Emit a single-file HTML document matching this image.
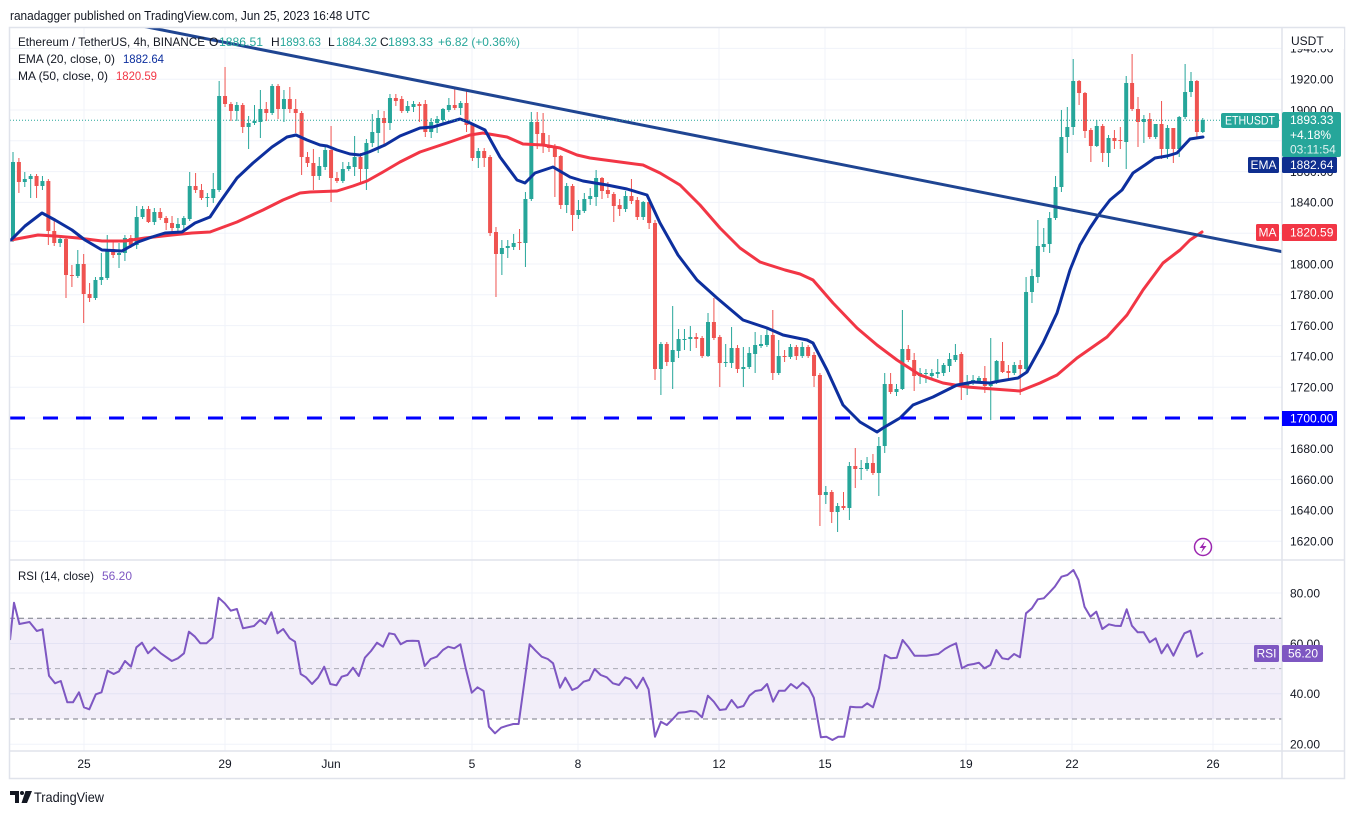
<!DOCTYPE html>
<html><head><meta charset="utf-8"><style>
html,body{margin:0;padding:0;background:#fff;width:1355px;height:814px;overflow:hidden;}
svg{display:block;font-family:"Liberation Sans",sans-serif;}
</style></head><body>
<svg width="1355" height="814" viewBox="0 0 1355 814" xmlns="http://www.w3.org/2000/svg">
<defs>
<clipPath id="mp"><rect x="10" y="28" width="1272" height="532"/></clipPath>
<clipPath id="rp"><rect x="10" y="561" width="1272" height="190"/></clipPath>
</defs>
<rect width="1355" height="814" fill="#fff"/>
<text x="10" y="20" font-size="13" fill="#131722" textLength="360" lengthAdjust="spacingAndGlyphs">ranadagger published on TradingView.com, Jun 25, 2023 16:48 UTC</text>

<!-- grid -->
<g stroke="#f0f3fa" stroke-width="1">
<line x1="10" x2="1282" y1="48.4" y2="48.4"/><line x1="10" x2="1282" y1="79.2" y2="79.2"/><line x1="10" x2="1282" y1="110" y2="110"/><line x1="10" x2="1282" y1="140.8" y2="140.8"/><line x1="10" x2="1282" y1="171.6" y2="171.6"/><line x1="10" x2="1282" y1="202.4" y2="202.4"/><line x1="10" x2="1282" y1="233.2" y2="233.2"/><line x1="10" x2="1282" y1="264" y2="264"/><line x1="10" x2="1282" y1="294.8" y2="294.8"/><line x1="10" x2="1282" y1="325.6" y2="325.6"/><line x1="10" x2="1282" y1="356.4" y2="356.4"/><line x1="10" x2="1282" y1="387.2" y2="387.2"/><line x1="10" x2="1282" y1="418" y2="418"/><line x1="10" x2="1282" y1="448.8" y2="448.8"/><line x1="10" x2="1282" y1="479.6" y2="479.6"/><line x1="10" x2="1282" y1="510.4" y2="510.4"/><line x1="10" x2="1282" y1="541.2" y2="541.2"/>
<line x1="10" x2="1282" y1="593" y2="593"/><line x1="10" x2="1282" y1="643.5" y2="643.5"/><line x1="10" x2="1282" y1="693.8" y2="693.8"/><line x1="10" x2="1282" y1="744.2" y2="744.2"/>
<line x1="84" x2="84" y1="28" y2="751"/><line x1="225" x2="225" y1="28" y2="751"/><line x1="331" x2="331" y1="28" y2="751"/><line x1="472" x2="472" y1="28" y2="751"/><line x1="578" x2="578" y1="28" y2="751"/><line x1="719" x2="719" y1="28" y2="751"/><line x1="825" x2="825" y1="28" y2="751"/><line x1="966" x2="966" y1="28" y2="751"/><line x1="1072" x2="1072" y1="28" y2="751"/><line x1="1213" x2="1213" y1="28" y2="751"/>
</g>

<!-- RSI band -->
<rect x="10" y="618.3" width="1272" height="100.7" fill="#7e57c2" fill-opacity="0.1"/>
<g stroke="#787b86" stroke-width="1" stroke-dasharray="5 4">
<line x1="10" x2="1282" y1="618.3" y2="618.3"/>
<line x1="10" x2="1282" y1="668.6" y2="668.6" stroke-opacity="0.6"/>
<line x1="10" x2="1282" y1="719" y2="719"/>
</g>

<!-- candles -->
<g id="cd" clip-path="url(#mp)"></g>

<g clip-path="url(#mp)" fill="none" stroke-linejoin="round" stroke-linecap="round">
<polyline stroke="#f23645" stroke-width="3" points="11,240 38,235 55,236 78,238 102,241 125,241 145,238 172,235 192,233 210,232 237,222 263,210 283,200 300,193 310,192 337,191 353,186 367,181 383,172 400,162 420,152 447,143 470,135 483,133 507,137 523,144 543,145 560,148 577,155 590,158 620,162 643,165 660,173 680,185 700,205 720,228 740,248 760,262 785,270 800,274 813,280 833,303 857,328 877,345 897,360 920,375 943,383 967,387 993,389 1020,391 1040,383 1057,375 1077,358 1107,337 1127,315 1143,290 1163,263 1180,250 1190,240 1202,232"/>
<polyline stroke="#0d2f9e" stroke-width="3" points="11,240 25,226 42,213 55,220 72,230 85,240 102,250 122,251 138,242 152,237 165,233 182,232 195,223 210,217 220,202 237,178 253,163 272,147 287,137 296,135 307,140 320,145 327,146 337,150 350,154 360,155 369,152 385,145 400,136 420,128 433,127 460,119 468,122 485,130 500,157 517,180 525,183 535,173 553,167 570,177 583,181 607,185 627,189 647,195 660,223 678,255 697,280 717,298 743,320 767,328 783,335 807,340 813,343 827,370 843,405 860,422 877,432 883,428 900,418 913,405 933,397 957,385 973,382 990,383 1000,381 1018,378 1027,372 1043,343 1057,313 1070,270 1080,245 1090,228 1100,213 1110,200 1122,190 1133,173 1145,165 1155,158 1167,156 1177,153 1190,139 1203,137"/>
<line x1="100" y1="17.7" x2="1282" y2="251.7" stroke="#1f4592" stroke-width="3"/>
<line x1="10" x2="1282" y1="418" y2="418" stroke="#0000ff" stroke-width="3" stroke-dasharray="15 18" stroke-linecap="butt"/>
<line x1="10" x2="1282" y1="120.3" y2="120.3" stroke="#26a69a" stroke-width="1" stroke-dasharray="1 2" stroke-linecap="butt"/>
</g>

<!-- RSI line -->
<polyline id="rsi" clip-path="url(#rp)" fill="none" stroke="#7e57c2" stroke-width="2" stroke-linejoin="round" points="10,640"/>

<!-- frame and separators -->
<g stroke="#e0e3eb" fill="none">
<rect x="9.5" y="27.5" width="1335" height="751" stroke-width="1.5"/>
<line x1="1282" x2="1282" y1="28" y2="778" stroke-width="1.5"/>
<line x1="10" x2="1345" y1="560" y2="560" stroke-width="1.5"/>
<line x1="10" x2="1345" y1="751" y2="751" stroke-width="1.5"/>
</g>

<!-- legend -->
<g font-size="12" fill="#131722">
<text x="18" y="46" textLength="187" lengthAdjust="spacingAndGlyphs">Ethereum / TetherUS, 4h, BINANCE</text>
<text x="209" y="46">O</text><text x="219" y="46" fill="#26a69a" textLength="44" lengthAdjust="spacingAndGlyphs">1886.51</text>
<text x="271" y="46">H</text><text x="280" y="46" fill="#26a69a" textLength="41" lengthAdjust="spacingAndGlyphs">1893.63</text>
<text x="328" y="46">L</text><text x="336" y="46" fill="#26a69a" textLength="41" lengthAdjust="spacingAndGlyphs">1884.32</text>
<text x="380" y="46">C</text><text x="388" y="46" fill="#26a69a" textLength="45" lengthAdjust="spacingAndGlyphs">1893.33</text>
<text x="438" y="46" fill="#26a69a" textLength="82" lengthAdjust="spacingAndGlyphs">+6.82 (+0.36%)</text>
<text x="18" y="63" textLength="97" lengthAdjust="spacingAndGlyphs">EMA (20, close, 0)</text>
<text x="123" y="63" fill="#0d2f9e" textLength="41" lengthAdjust="spacingAndGlyphs">1882.64</text>
<text x="18" y="80" textLength="90" lengthAdjust="spacingAndGlyphs">MA (50, close, 0)</text>
<text x="116" y="80" fill="#f23645" textLength="41" lengthAdjust="spacingAndGlyphs">1820.59</text>
<text x="18" y="580" textLength="76" lengthAdjust="spacingAndGlyphs">RSI (14, close)</text>
<text x="102" y="580" fill="#7e57c2" textLength="30" lengthAdjust="spacingAndGlyphs">56.20</text>
</g>

<!-- price axis labels -->
<g font-size="12" fill="#131722">
<text x="1290" y="52.7">1940.00</text>
<text x="1290" y="83.5">1920.00</text>
<text x="1290" y="114.3">1900.00</text>
<text x="1290" y="145.1">1880.00</text>
<text x="1290" y="175.9">1860.00</text>
<text x="1290" y="206.7">1840.00</text>
<text x="1290" y="237.5">1820.00</text>
<text x="1290" y="268.3">1800.00</text>
<text x="1290" y="299.1">1780.00</text>
<text x="1290" y="329.9">1760.00</text>
<text x="1290" y="360.7">1740.00</text>
<text x="1290" y="391.5">1720.00</text>
<text x="1290" y="422.3">1700.00</text>
<text x="1290" y="453.1">1680.00</text>
<text x="1290" y="483.9">1660.00</text>
<text x="1290" y="514.7">1640.00</text>
<text x="1290" y="545.5">1620.00</text>
<text x="1290" y="597.3">80.00</text>
<text x="1290" y="647.8">60.00</text>
<text x="1290" y="698.1">40.00</text>
<text x="1290" y="748.5">20.00</text>
</g>
<rect x="1283" y="29" width="61" height="20" fill="#fff"/>
<text x="1291" y="45" font-size="12" fill="#131722">USDT</text>

<!-- x axis labels -->
<g font-size="12" fill="#131722" text-anchor="middle">
<text x="84" y="768">25</text><text x="225" y="768">29</text><text x="331" y="768">Jun</text><text x="472" y="768">5</text><text x="578" y="768">8</text><text x="719" y="768">12</text><text x="825" y="768">15</text><text x="966" y="768">19</text><text x="1072" y="768">22</text><text x="1213" y="768">26</text>
</g>

<!-- label boxes -->
<rect x="1221" y="113" width="58" height="15" rx="2" fill="#26a69a"/>
<text x="1250" y="124.5" font-size="11.5" fill="#fff" text-anchor="middle" textLength="50" lengthAdjust="spacingAndGlyphs">ETHUSDT</text>
<rect x="1282" y="112" width="59" height="45" rx="2" fill="#26a69a"/>
<g font-size="12" fill="#fff">
<text x="1290" y="124">1893.33</text>
<text x="1290" y="139">+4.18%</text>
<text x="1290" y="153.5" fill-opacity="0.85">03:11:54</text>
</g>
<rect x="1248" y="157" width="31" height="16" rx="1.5" fill="#0f2e8f"/>
<text x="1263.5" y="169" font-size="12" fill="#fff" text-anchor="middle">EMA</text>
<rect x="1282" y="157" width="55" height="16" rx="1.5" fill="#0f2e8f"/>
<text x="1290" y="169" font-size="12" fill="#fff">1882.64</text>
<rect x="1256" y="224" width="23" height="17" rx="1.5" fill="#f23645"/>
<text x="1267.5" y="236.5" font-size="12" fill="#fff" text-anchor="middle">MA</text>
<rect x="1282" y="224" width="55" height="17" rx="1.5" fill="#f23645"/>
<text x="1290" y="236.5" font-size="12" fill="#fff">1820.59</text>
<rect x="1282" y="411" width="55" height="15" fill="#0000ff"/>
<text x="1290" y="422.5" font-size="12" fill="#fff">1700.00</text>
<rect x="1254" y="645" width="25" height="17" rx="1.5" fill="#7e57c2"/>
<text x="1266.5" y="657.5" font-size="12" fill="#fff" text-anchor="middle">RSI</text>
<rect x="1282" y="645" width="41" height="17" rx="1.5" fill="#7e57c2"/>
<text x="1288" y="657.5" font-size="12" fill="#fff">56.20</text>

<!-- flash icon -->
<circle cx="1203" cy="547" r="8.5" fill="#fff" stroke="#9c27b0" stroke-width="1.5"/>
<path d="M1205 541 L1199.5 548 L1203 548 L1201 553 L1206.5 546 L1203 546 Z" fill="#9c27b0"/>

<!-- TradingView logo -->
<path d="M10 791 H19 V803 H15 V795 H10 Z" fill="#131722"/>
<circle cx="22" cy="793" r="2" fill="#131722"/>
<path d="M25.5 791 H32 L27 803 H21.5 Z" fill="#131722"/>
<text x="34" y="802" font-size="14" fill="#131722" textLength="70" lengthAdjust="spacingAndGlyphs">TradingView</text>
</svg>
<script>
(function(){
var NS='http://www.w3.org/2000/svg';
var C=[[240,162,152,242],[162,182,158,193],[182,179,172,187],[179,176,174,198],[176,186,174,198],[186,181,176,190],[181,231,179,245],[231,243,220,246],[243,239,235,247],[239,275,237,298],
[275,276,265,287],[276,264,250,278],[264,294,254,323],[294,298,283,302],[298,280,277,300],[280,277,253,285],[278,249,235,280],[249,255,240,258],[255,253,243,268],[253,238,235,261],
[238,245,235,248],[245,217,206,249],[217,209,206,219],[209,222,206,223],[222,212,208,225],[212,218,208,220],[218,223,216,230],[223,228,216,232],[228,224,218,235],[225,218,216,230],
[219,186,172,221],[186,190,173,193],[190,198,184,200],[198,197,193,207],[198,189,173,203],[190,96,81,192],[96,104,67,107],[104,111,102,121],[111,105,102,121],[105,127,103,133],
[127,123,116,149],[123,121,105,125],[122,109,90,138],[109,113,102,121],[113,86,84,115],[86,109,84,119],[109,99,90,122],[99,109,87,113],[109,113,99,133],[113,157,111,175],
[157,163,152,167],[163,176,149,190],[176,166,157,180],[167,150,145,170],[150,178,126,202],[178,181,172,183],[181,169,162,183],[169,166,162,171],[167,157,136,176],[157,169,153,182],
[169,143,139,190],[143,132,114,147],[133,118,110,153],[118,123,111,145],[123,98,94,130],[98,101,94,106],[99,111,96,113],[111,106,101,113],[107,104,101,112],[104,106,102,122],
[104,132,100,137],[132,122,118,138],[123,119,116,133],[120,109,108,123],[110,105,98,112],[105,108,87,110],[108,103,101,115],[103,125,89,132],[125,158,123,161],[158,151,148,168],
[151,158,148,167],[157,233,155,236],[232,254,227,297],[254,248,240,275],[248,246,240,258],[247,243,234,250],[242,243,229,250],[243,199,192,267],[199,122,112,201],[122,134,112,149],
[133,146,113,153],[145,148,135,152],[146,157,144,197],[156,205,155,209],[205,186,183,213],[186,215,184,231],[215,210,200,219],[211,199,193,213],[199,196,188,205],[197,178,170,206],
[178,191,177,199],[190,194,182,198],[194,206,192,222],[205,209,199,216],[209,196,191,212],[196,201,179,204],[200,217,197,220],[217,202,201,220],[202,223,200,229],[223,369,220,380],
[369,344,342,395],[344,362,342,366],[362,350,306,389],[351,339,329,358],[340,339,329,350],[339,337,326,351],[337,339,333,348],[338,356,336,358],[356,322,313,357],[322,338,298,340],
[337,363,335,387],[363,362,344,367],[363,348,327,368],[348,369,345,373],[369,367,347,387],[367,353,347,369],[354,345,332,373],[346,344,335,348],[345,335,327,347],[335,373,310,380],
[373,356,340,375],[356,357,350,362],[357,347,344,359],[347,356,345,360],[356,347,342,358],[347,356,345,358],[355,376,352,387],[375,495,373,526],[495,492,486,504],[492,512,490,523],
[512,506,503,532],[506,508,492,510],[508,466,462,520],[466,469,448,488],[469,468,460,480],[469,463,457,471],[463,473,454,475],[473,446,437,496],[446,384,373,453],[384,392,373,394],
[392,389,384,396],[389,349,310,390],[349,360,345,362],[360,376,353,391],[376,373,368,384],[374,373,369,383],[376,373,369,380],[374,372,359,378],[373,365,363,376],[366,359,353,372],
[360,355,344,362],[354,386,352,400],[386,383,375,395],[383,380,375,385],[381,378,376,383],[378,386,366,393],[386,382,338,420],[382,361,360,384],[361,372,342,373],[371,373,365,378],
[373,365,362,375],[365,369,360,395],[369,292,277,371],[292,276,269,303],[277,246,220,283],[247,244,228,252],[244,218,212,253],[218,187,176,220],[187,137,110,192],[137,127,107,153],
[127,81,59,135],[81,93,80,105],[93,131,92,138],[130,146,128,162],[146,126,120,147],[126,153,124,162],[153,138,135,167],[138,141,130,149],[140,141,127,149],[142,83,76,169],
[83,109,54,111],[109,122,97,147],[122,119,115,143],[119,137,113,139],[137,124,124,139],[124,149,101,159],[149,128,125,159],[128,149,128,163],[149,117,116,157],[117,92,64,119],
[92,81,72,97],[81,132,80,137],[132,120,118,133]];
var g=document.getElementById('cd');
for(var i=0;i<C.length;i++){
 var c=C[i],x=13+5.89*i,o=c[0],cl=c[1],hi=c[2],lo=c[3];
 var col=(cl<o)?'#26a69a':'#ef5350';
 var top=Math.min(o,cl),bh=Math.max(1,Math.abs(o-cl));
 var ln=document.createElementNS(NS,'line');
 ln.setAttribute('x1',x.toFixed(2));ln.setAttribute('x2',x.toFixed(2));
 ln.setAttribute('y1',hi);ln.setAttribute('y2',lo);
 ln.setAttribute('stroke',col);ln.setAttribute('stroke-width','1');
 g.appendChild(ln);
 var r=document.createElementNS(NS,'rect');
 r.setAttribute('x',(x-2).toFixed(2));r.setAttribute('y',top);
 r.setAttribute('width','4');r.setAttribute('height',bh);r.setAttribute('fill',col);
 g.appendChild(r);
}
var R9=[[10,240],[14,128],[19.4,192],[29.5,186],[36.8,213],[42.5,208],[49,347],[55,370],[60.8,363],[67.3,427],[73,427],[79,397],[84,442],[89.3,448],[95.8,403],[101.5,397],[107.6,332],[113.7,342],[119,334],[125,303],[131,320],[136.4,262],[142,248],[148,280],[154.3,262],[160.8,280],[171.8,303],[177.9,295],[184,280],[188.9,215],[195,230],[200.3,250],[206.4,250],[212.5,233],[218.6,113],[224.7,130],[230.8,152],[236.9,147],[243,205],[254,198],[260,180],[265.3,192],[271.4,157],[277.5,220],[283.2,207],[289.7,235],[295,245],[300.7,342],[306,352],[312,372],[318,353],[324.2,320],[330.3,372],[336.4,376],[341.7,350],[347.4,345],[353,323],[358.8,348],[364.9,293],[371,273],[377,248],[383,260],[389.2,220],[394.6,223],[400.7,253],[406.8,243],[412.5,242],[418.6,243],[424.7,318],[430.7,297],[436.8,290],[442.9,270],[448.2,260],[454.3,265],[460.4,253],[465.7,325],[471.8,398],[477.5,382],[483.6,393],[488.9,500],[495,520],[501.1,503],[507.2,497],[513.3,492],[518.6,492],[529.6,253],[535.6,272],[541.7,290],[547.8,297],[553.1,310],[560,383],[565.3,353],[572.2,390],[577.5,383],[583.6,365],[589.3,360],[594.6,327],[600.7,345],[606.8,352],[612.9,370],[619,375],[625.1,352],[630.3,358]];
var R10=[[632.3,385],[638.6,353],[644.2,388],[650.6,530],[656.5,485],[662.5,495],[668.5,477],[674.4,458],[680.4,457],[686.4,453],[692,455],[697.9,472],[703.9,407],[709.8,425],[715.8,450],[721.8,448],[727.7,420],[733.7,443],[739.7,438],[745.6,407],[751.6,393],[757.6,390],[763.5,372],[769.5,425],[775.4,392],[781.4,392],[787.4,372],[793.4,385],[799.3,368],[805.3,383],[810.5,413],[817.6,532],[823.2,530],[829.2,540],[835.1,530],[841.1,530],[847.1,440],[853,442],[859,442],[864.2,430],[870.1,442],[876.1,385],[882,285],[888,295],[894,293],[899.9,240],[905.9,262],[911.9,287],[923.8,287],[935.8,282],[942.5,267],[947.7,258],[953.7,250],[959.6,325],[965.6,315],[971.6,312],[976.7,308],[982.3,325],[988.3,315],[994.2,270],[1000.2,295],[1006.2,298],[1012.1,282],[1018.1,292],[1024.1,160],[1030,145],[1036,118],[1042,115],[1047.9,97],[1053.1,80],[1059.8,50],[1065.8,45],[1071.8,30],[1077,60],[1083,140],[1088.9,170],[1094.9,155],[1100.9,207],[1107.6,193],[1113.6,197],[1119.5,198],[1125.5,148],[1130.7,197],[1136.6,217],[1142.6,217],[1148.6,247],[1154.6,235],[1160.5,280],[1166.5,253],[1172.5,287],[1178.4,250],[1183.6,220],[1189.6,212],[1196.3,290],[1202.3,278]];
var pts=[];
for(var a=0;a<R9.length;a++){var p=R9[a];pts.push(p[0].toFixed(1)+','+(560+p[1]/3).toFixed(1));}
for(var b=0;b<R10.length;b++){var q=R10[b];var xx=q[0]+4.4-3.7*(q[0]-650)/553;pts.push(xx.toFixed(1)+','+(560+q[1]/3).toFixed(1));}
document.getElementById('rsi').setAttribute('points',pts.join(' '));
})();
</script>
</body></html>
